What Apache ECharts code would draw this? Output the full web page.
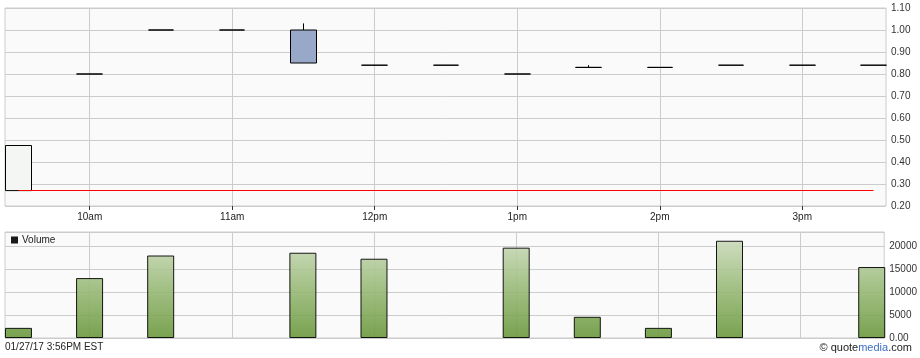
<!DOCTYPE html>
<html>
<head>
<meta charset="utf-8">
<script src="https://cdn.jsdelivr.net/npm/echarts@6/dist/echarts.min.js"></script>
<style>
html,body{margin:0;padding:0;background:#fff;}
#chart{width:920px;height:358px;}
</style>
</head>
<body>
<div id="chart"></div>
<script>
// ---- data ----
var times = ['9:30','10:00','10:30','11:00','11:30','12:00','12:30','1:00','1:30','2:00','2:30','3:00','3:30'];
var opens  = [0.27, 0.80, 1.00, 1.00, 1.00, 0.84, 0.84, 0.80, 0.83, 0.83, 0.84, 0.84, 0.84];
var closes = [0.475,0.80, 1.00, 1.00, 0.85, 0.84, 0.84, 0.80, 0.83, 0.83, 0.84, 0.84, 0.84];
var lows   = [0.27, 0.80, 1.00, 1.00, 0.85, 0.84, 0.84, 0.80, 0.83, 0.83, 0.84, 0.84, 0.84];
var highs  = [0.475,0.80, 1.00, 1.00, 1.03, 0.84, 0.84, 0.80, 0.84, 0.83, 0.84, 0.84, 0.84];
var volumes = [2200, 13000, 17900, null, 18500, 17200, null, 19600, 4600, 2200, 21100, null, 15400];
var prevClose = 0.27;
var hourTicks = ['10:00','11:00','12:00','1:00','2:00','3:00'];
var priceTicks = [0.20,0.30,0.40,0.50,0.60,0.70,0.80,0.90,1.00,1.10];
var volumeTicks = [0, 5000, 10000, 15000, 20000];
var stampText = '01/27/17 3:56PM EST';

// convert "h:mm" session time to minutes since midnight
function toMin(t){
  var p = t.split(':'); var h = +p[0]; var m = +p[1];
  if (h < 9) h += 12;
  return h*60 + m;
}
var xs = times.map(toMin);
var hourVals = hourTicks.map(toMin);

var candleData = xs.map(function(x,i){ return [x, opens[i], closes[i], lows[i], highs[i]]; });
var volData = [];
xs.forEach(function(x,i){ if (volumes[i] != null) volData.push([x, volumes[i]]); });

function hourLabel(v){
  var h = Math.round(v/60);
  if (h < 12) return h + 'am';
  if (h === 12) return '12pm';
  return (h-12) + 'pm';
}

var FONT = 'Liberation Sans';
var xMin = 564.32, xMax = 935.26;

var chart = echarts.init(document.getElementById('chart'), null, {renderer:'canvas'});
var option = {
  animation: false,
  backgroundColor: '#ffffff',
  grid: [
    {left:5, right:34, top:8, height:198, show:true, backgroundColor:'#fafafa', borderColor:'#cccccc', borderWidth:1},
    {left:5, right:34, top:232, height:106, show:true, backgroundColor:'#fafafa', borderColor:'#cccccc', borderWidth:1}
  ],
  legend: {
    data: ['Volume'], left: 6, top: 230, icon: 'rect', itemWidth: 7, itemHeight: 7, itemGap: 4,
    itemStyle: {color:'#000', borderWidth:0},
    textStyle: {fontFamily: FONT, fontSize: 10, color:'#222', padding:[0,0,0,-1]},
    selectedMode: false
  },
  xAxis: [
    {type:'value', gridIndex:0, min:xMin, max:xMax,
     axisLine:{show:false},
     axisTick:{show:true, length:4, lineStyle:{color:'#333'}, customValues: hourVals},
     axisLabel:{show:true, customValues: hourVals, formatter: hourLabel, margin:6, fontFamily:FONT, fontSize:10, color:'#222'},
     splitLine:{show:true, lineStyle:{color:'#cccccc', width:1}}},
    {type:'value', gridIndex:1, min:xMin, max:xMax,
     axisLine:{show:false},
     axisTick:{show:false, customValues: hourVals},
     axisLabel:{show:false, customValues: hourVals},
     splitLine:{show:true, lineStyle:{color:'#cccccc', width:1}}}
  ],
  yAxis: [
    {type:'value', gridIndex:0, position:'right', min:priceTicks[0], max:priceTicks[priceTicks.length-1], interval:0.1,
     axisLine:{show:false}, axisTick:{show:false},
     axisLabel:{margin:5, fontFamily:FONT, fontSize:10, color:'#333', formatter:function(v){return v.toFixed(2);}},
     splitLine:{show:true, lineStyle:{color:'#cccccc', width:1}}},
    {type:'value', gridIndex:1, position:'right', min:volumeTicks[0], max:23000, interval:5000,
     axisLine:{show:false}, axisTick:{show:false},
     axisLabel:{margin:5, fontFamily:FONT, fontSize:10, color:'#333', showMaxLabel:false,
       formatter:function(v){ return v === 0 ? '0.00' : String(v); }},
     splitLine:{show:true, lineStyle:{color:'#cccccc', width:1}}}
  ],
  series: [
    {type:'candlestick', name:'Price', xAxisIndex:0, yAxisIndex:0, barWidth:26,
     encode:{x:0, y:[1,2,3,4]},
     data: candleData,
     itemStyle:{color:'#f3f6f3', color0:'#98a8c8', borderColor:'#000', borderColor0:'#000', borderWidth:1},
     markLine:{silent:true, symbol:['none','none'], z:10,
       lineStyle:{color:'#ff0000', width:1, type:'solid'},
       label:{show:false},
       data:[[{coord:[xs[0], prevClose]}, {coord:[xs[xs.length-1], prevClose]}]]}
    },
    {type:'bar', name:'Volume', xAxisIndex:1, yAxisIndex:1, barWidth:27,
     data: volData,
     itemStyle:{
       opacity:0.9,
       borderColor:'#000', borderWidth:1,
       color: new echarts.graphic.LinearGradient(0, 232, 0, 338, [
         {offset:0, color:'#d6dbd0'},
         {offset:0.13, color:'#c5d6b2'},
         {offset:0.5, color:'#9cbc7c'},
         {offset:1, color:'#6a983c'}
       ], true)
     }}
  ],
  graphic: [
    {type:'text', left:5, top:342, style:{text: stampText, font:'10px "Liberation Sans"', fill:'#222'}},
    {type:'text', right:8, top:342, style:{
      text:'© quote{m|media}.com', font:'11px "Liberation Sans"', fill:'#222',
      rich:{m:{fill:'#3d6fc4', font:'11px "Liberation Sans"'}}
    }}
  ]
};
chart.setOption(option);
</script>
</body>
</html>
